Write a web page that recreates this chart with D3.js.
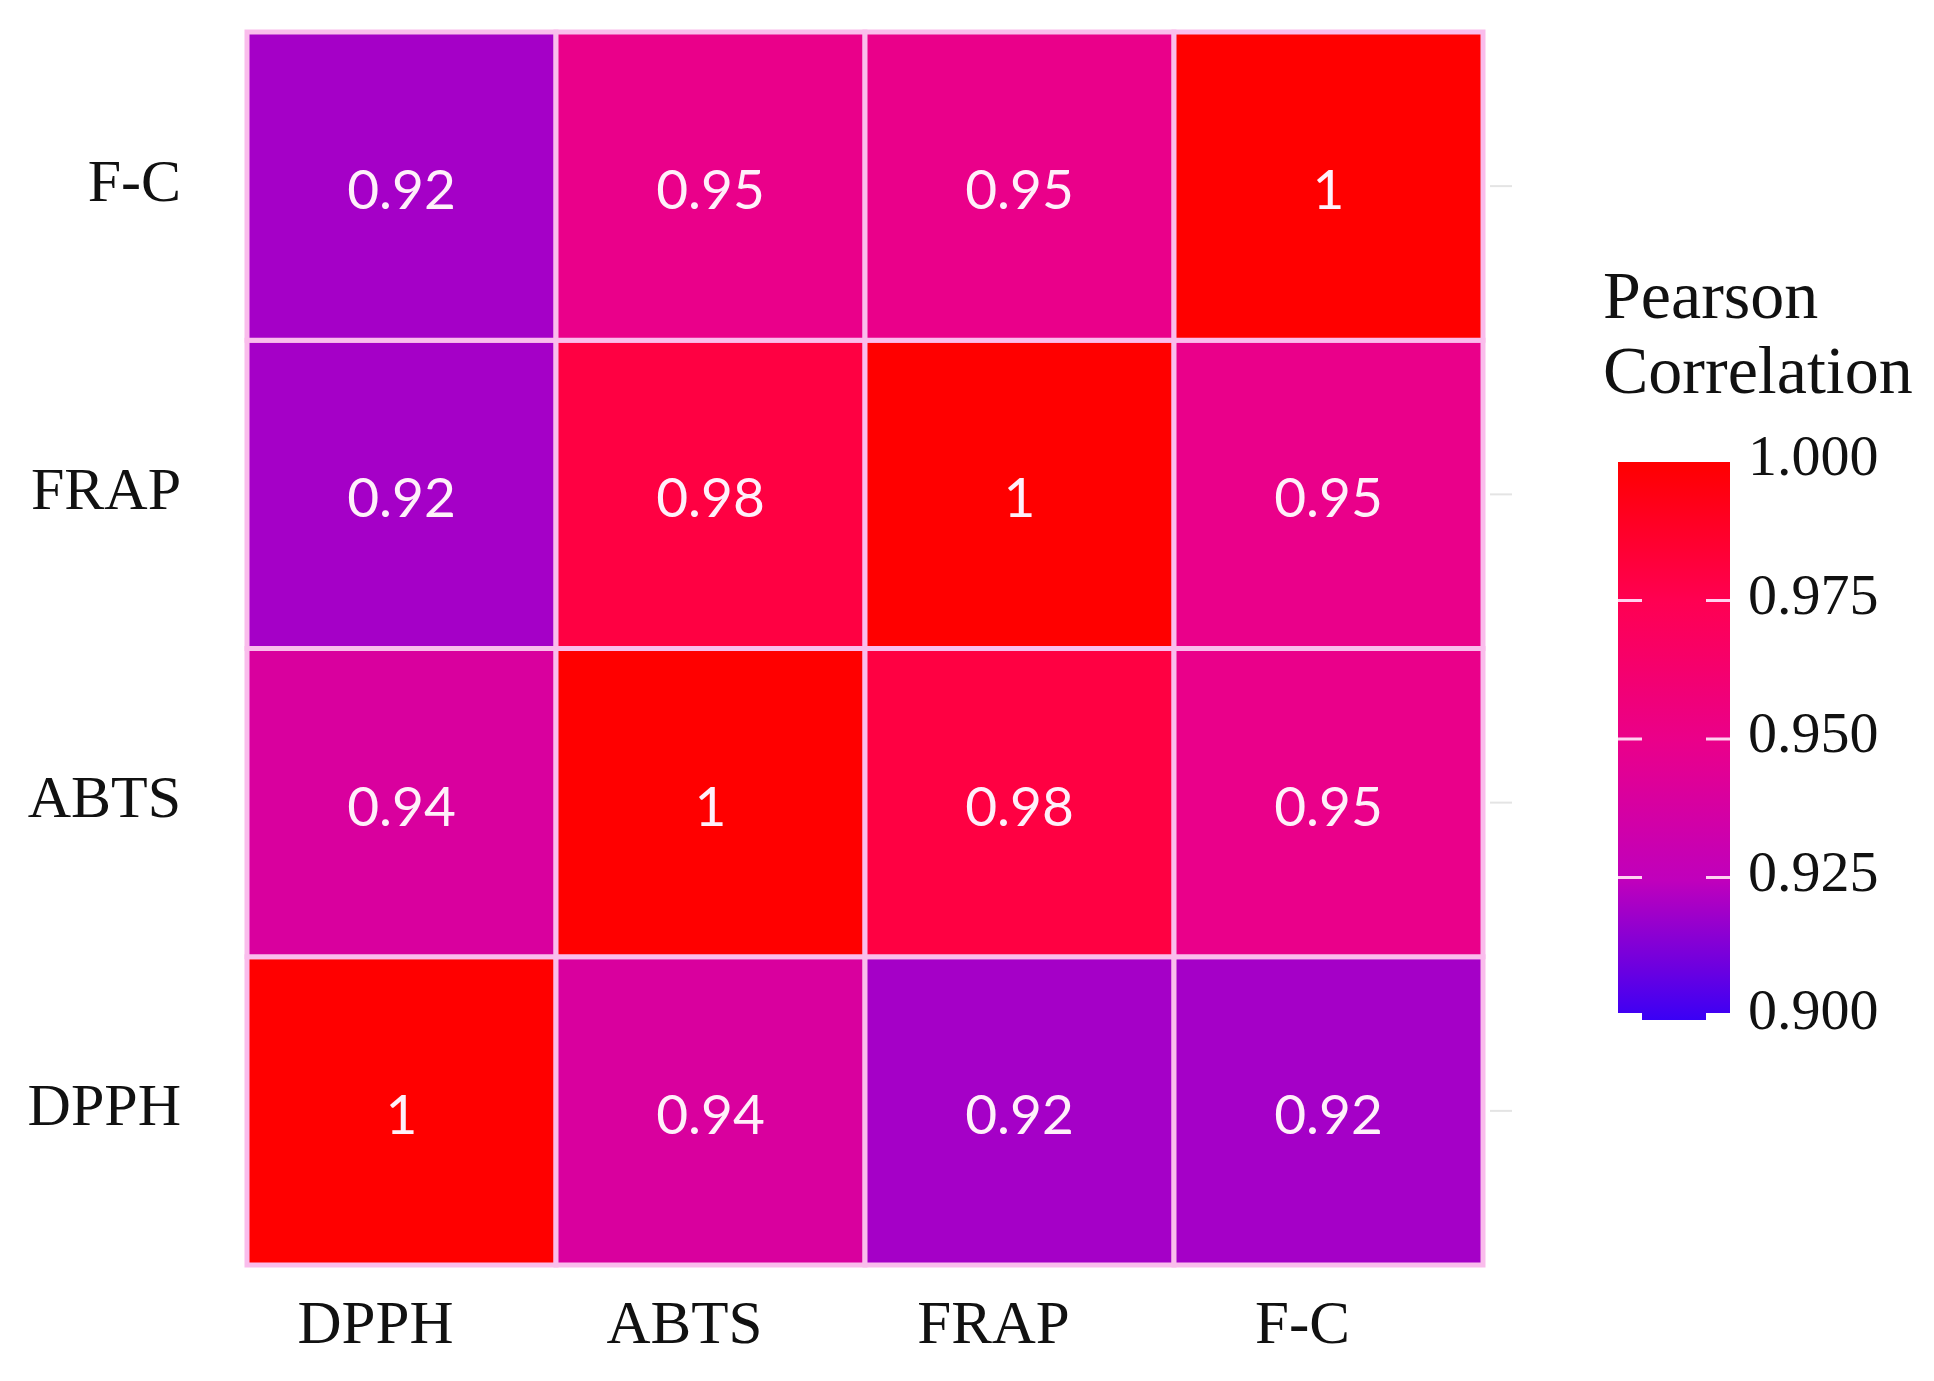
<!DOCTYPE html>
<html>
<head>
<meta charset="utf-8">
<script src="https://cdn.jsdelivr.net/npm/d3@7"></script>
<style>
  html, body { margin: 0; padding: 0; background: #ffffff; }
  svg { display: block; }
</style>
</head>
<body>
<script>
// ---- data ----
const variables = ["DPPH", "ABTS", "FRAP", "F-C"];
const rowDPPH = [1, 0.94, 0.92, 0.92];
const rowABTS = [0.94, 1, 0.98, 0.95];
const rowFRAP = [0.92, 0.98, 1, 0.95];
const rowFC   = [0.92, 0.95, 0.95, 1];
const legendTicks = [0.9, 0.925, 0.95, 0.975, 1.0];
const legendTitle = ["Pearson", "Correlation"];
// colour stops
const colorStopValues = [0.9, 0.925, 0.95, 0.975, 1.0];
const colorStopColors = ["#3a00f5", "#c000bc", "#ea008a", "#ff0052", "#ff0000"];

const matrix = [rowDPPH, rowABTS, rowFRAP, rowFC];
const cells = [];
variables.forEach((rv, i) => {
  variables.forEach((cv, j) => {
    cells.push({ row: rv, col: cv, value: matrix[i][j] });
  });
});

const W = 1934, H = 1381;
const svg = d3.select("body").append("svg").attr("width", W).attr("height", H);

const x = d3.scaleBand().domain(variables).range([247, 1483]);
const y = d3.scaleBand().domain(variables.slice().reverse()).range([32, 1265]);
const color = d3.scaleLinear().domain(colorStopValues).range(colorStopColors).interpolate(d3.interpolateRgb);

const fmt = v => String(+v.toFixed(2));

// tiles
svg.append("g").selectAll("rect").data(cells).join("rect")
  .attr("x", d => x(d.col))
  .attr("y", d => y(d.row))
  .attr("width", x.bandwidth())
  .attr("height", y.bandwidth())
  .attr("fill", d => color(d.value))
  .attr("stroke", "#fabdec")
  .attr("stroke-width", 5);

// cell labels
svg.append("g").selectAll("text").data(cells).join("text")
  .attr("x", d => x(d.col) + x.bandwidth() / 2)
  .attr("y", d => y(d.row) + y.bandwidth() / 2 + 2)
  .attr("text-anchor", "middle")
  .attr("dominant-baseline", "central")
  .attr("font-family", "Lato, 'Open Sans', sans-serif")
  .attr("font-size", 55)
  .attr("fill", "#fff0fa")
  .text(d => fmt(d.value));

// x axis
const gx = svg.append("g").attr("transform", "translate(0,1265)")
  .call(d3.axisBottom(x).tickSize(0));
gx.select(".domain").remove();
gx.selectAll("text")
  .attr("y", 78).attr("dy", 0).attr("dx", -26)
  .attr("font-family", "'Liberation Serif', serif")
  .attr("font-size", 61)
  .attr("fill", "#111");

// y axis
const gy = svg.append("g").attr("transform", "translate(247,0)")
  .call(d3.axisLeft(y).tickSize(0));
gy.select(".domain").remove();
gy.selectAll("text")
  .attr("x", -66).attr("dy", "0.24em")
  .attr("text-anchor", "end")
  .attr("font-family", "'Liberation Serif', serif")
  .attr("font-size", 60)
  .attr("fill", "#111");

// faint right-side ticks
const gr = svg.append("g").attr("transform", "translate(1490,0)")
  .call(d3.axisRight(y).tickSize(22).tickFormat(""));
gr.select(".domain").remove();
gr.selectAll("line").attr("stroke", "#e4e4e4").attr("stroke-width", 2);

// legend
const lx = 1618, lw = 112;
const ly = d3.scaleLinear().domain([0.9, 1.0]).range([1016, 462]);
const defs = svg.append("defs");
const grad = defs.append("linearGradient").attr("id", "lg")
  .attr("x1", 0).attr("y1", 1).attr("x2", 0).attr("y2", 0);
d3.range(0, 1.0001, 0.05).forEach(t => {
  grad.append("stop").attr("offset", t).attr("stop-color", color(0.9 + 0.1 * t));
});
svg.append("rect")
  .attr("x", lx).attr("y", ly(1.0))
  .attr("width", lw).attr("height", 1020 - ly(1.0))
  .attr("fill", "url(#lg)");

const tickLen = 24;
const lt = svg.append("g");
legendTicks.filter(v => v > 0.9 && v < 1).forEach(v => {
  lt.append("line").attr("x1", lx).attr("x2", lx + tickLen)
    .attr("y1", ly(v)).attr("y2", ly(v))
    .attr("stroke", "#ffd2f0").attr("stroke-width", 3);
  lt.append("line").attr("x1", lx + lw - tickLen).attr("x2", lx + lw)
    .attr("y1", ly(v)).attr("y2", ly(v))
    .attr("stroke", "#ffd2f0").attr("stroke-width", 3);
});
// bottom notch at 0.9
[[lx - 1, tickLen + 1], [lx + lw - tickLen, tickLen + 1]].forEach(([sx, len]) => {
  lt.append("rect").attr("x", sx).attr("y", ly(0.9) - 3)
    .attr("width", len).attr("height", 8).attr("fill", "#ffffff");
});

svg.append("g").selectAll("text").data(legendTicks).join("text")
  .attr("x", 1748)
  .attr("y", d => ly(d) + 13)
  .attr("font-family", "'Liberation Serif', serif")
  .attr("font-size", 58)
  .attr("fill", "#111")
  .text(d => d3.format(".3f")(d));

svg.append("g").selectAll("text").data(legendTitle).join("text")
  .attr("x", 1603)
  .attr("y", (d, i) => 318 + i * 75)
  .attr("font-family", "'Liberation Serif', serif")
  .attr("font-size", 68)
  .attr("fill", "#111")
  .text(d => d);
</script>
</body>
</html>
